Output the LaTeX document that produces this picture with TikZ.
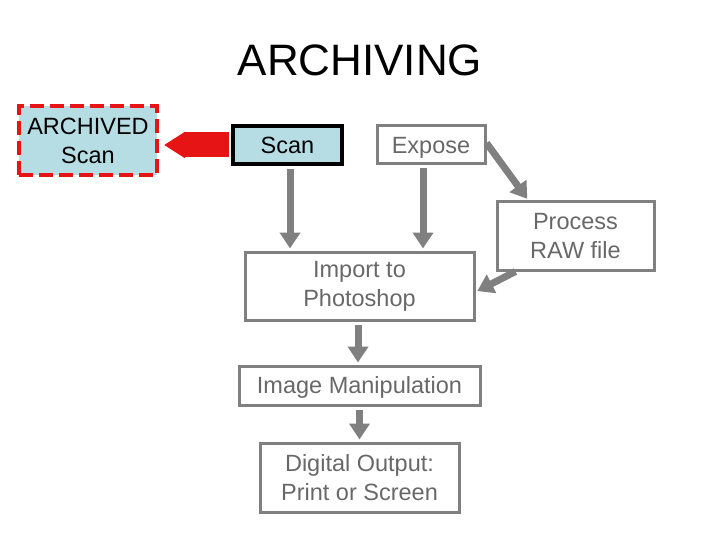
\documentclass[tikz,border=0pt]{standalone}
\usepackage{fontspec}
\setmainfont{Liberation Sans}
\usetikzlibrary{positioning}
\usetikzlibrary{arrows.meta}
\definecolor{boxgray}{RGB}{128,128,128}
\definecolor{textgray}{RGB}{104,104,104}
\definecolor{scanblue}{RGB}{183,221,228}
\definecolor{archred}{RGB}{230,20,20}

\begin{document}
\begin{tikzpicture}[x=1pt,y=-1pt,
    every node/.style={font=\fontsize{23.5}{29}\selectfont, align=center, inner sep=0pt},
    graybox/.style={draw=boxgray, line width=3pt, text=textgray},
    flow/.style={draw=boxgray, line width=7pt,
        -{Triangle[width=20pt,length=16pt]},
        shorten <=3pt, shorten >=2pt}
]
\useasboundingbox (0,0) rectangle (720,540);

 % Title
 \node (title) at (360,60) {\fontsize{44}{50}\selectfont ARCHIVING};

 % Archived scan
 \node [draw=archred,
    fill=scanblue,
    line width=4pt,
    dash pattern=on 14pt off 6pt,
    minimum width=138pt,
    minimum height=69pt
 ] (archived) at (88,140.5) {ARCHIVED\\Scan};

 % Top row
 \node [draw=black,
    fill=scanblue,
    line width=4pt,
    minimum width=109pt,
    minimum height=38pt
 ] (scan) at (287.5,145) {Scan};

 \node [graybox,
    text depth=0pt,
    minimum width=108pt,
    minimum height=38pt,
    right=31.5pt of scan
 ] (expose) {Expose};

 \node [graybox,
    minimum width=157pt,
    minimum height=68pt
 ] (raw) at (575.5,236) {Process\\RAW file};

 % Main column
 \node [graybox,
    minimum width=229pt,
    minimum height=68pt
 ] (import) at (359.5,286) {Import to\\Photoshop};

 \node [graybox,
    text depth=1.5pt,
    minimum width=241pt,
    minimum height=39pt,
    below=43pt of import
 ] (manip) {Image Manipulation};

 \node [graybox,
    minimum width=199pt,
    minimum height=69pt,
    below=35pt of manip
 ] (output) {Digital Output:\\Print or Screen};

\draw[archred, line width=25pt, -{Triangle[width=25pt,length=21pt]},
    shorten <=2pt, shorten >=5pt] (scan.west) -- (scan.west -| archived.east);

\draw[flow] ([xshift=2.5pt]scan.south) -- ([xshift=2.5pt]scan.south |- import.north);
\draw[flow] ([xshift=-8pt]expose.south) -- ([xshift=-8pt]expose.south |- import.north);
\draw[flow] ([xshift=-1.5pt]import.south) -- ([xshift=-1.5pt]manip.north);
\draw[flow] (manip.south) -- (output.north);

\draw[flow, shorten <=0pt] ([yshift=2pt]expose.east) -- ([xshift=33pt]raw.north west);
\draw[flow, shorten <=0pt] ([xshift=20pt]raw.south west) -- ([yshift=-6pt]import.east);
\end{tikzpicture}
\end{document}
